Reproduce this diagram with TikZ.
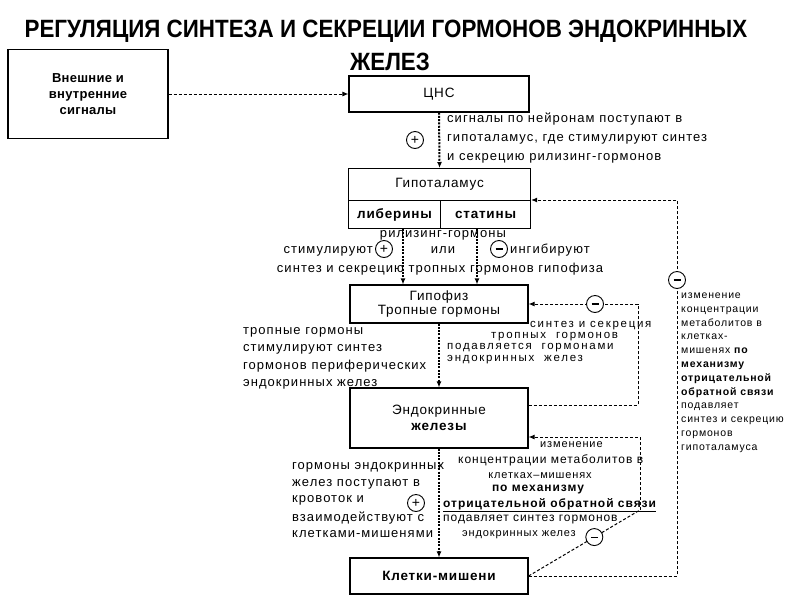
\documentclass[tikz,border=0pt]{standalone}
\usepackage{fontspec}
\usepackage{graphicx}
\setmainfont{Liberation Sans}
\newfontfamily\ann[LetterSpace=8]{Liberation Sans}
\newfontfamily\annw[LetterSpace=15]{Liberation Sans}
\newfontfamily\boxf[LetterSpace=6]{Liberation Sans}
\newfontfamily\extf[LetterSpace=2]{Liberation Sans}
\newcommand\mns{\rule{7pt}{1.1pt}}
\usetikzlibrary{arrows.meta}
\begin{document}
\begin{tikzpicture}[x=1pt,y=-1pt,
  box/.style={draw,solid,line width=1.1pt,rectangle,inner sep=0pt,align=center,font=\boxf\fontsize{13.5}{16}\selectfont},
  main/.style={line width=2pt,dash pattern=on 2pt off 1.3pt,-{Latex[length=6pt,width=5pt]}},
  fb/.style={line width=1pt,dash pattern=on 3pt off 2pt},
  fba/.style={fb,-{Latex[length=6pt,width=5pt]}},
  circ/.style={draw,solid,circle,fill=white,line width=0.9pt,minimum size=17pt,inner sep=0pt,font=\fontsize{14}{14}\selectfont},
  t13/.style={inner sep=0pt,font=\ann\fontsize{13}{13}\selectfont},
  tw/.style={inner sep=0pt,font=\annw\fontsize{11.5}{11.5}\selectfont},
  t12/.style={inner sep=0pt,font=\ann\fontsize{12}{12}\selectfont},
  t11/.style={inner sep=0pt,font=\ann\fontsize{11}{11}\selectfont},
  t10/.style={inner sep=0pt,font=\ann\fontsize{10.5}{10.5}\selectfont}]
\useasboundingbox (0,0) rectangle (800,600);
\fill[white] (0,0) rectangle (800,600);

% title
\node[inner sep=0pt] (title1) at (386,31) {\scalebox{0.895}[1]{\fontsize{25}{30}\selectfont\bfseries РЕГУЛЯЦИЯ СИНТЕЗА И СЕКРЕЦИИ ГОРМОНОВ ЭНДОКРИННЫХ}};
\node[inner sep=0pt] (title2) at (390,62) {\scalebox{0.895}[1]{\fontsize{25}{30}\selectfont\bfseries ЖЕЛЕЗ}};

% boxes
\node[box,minimum width=160pt,minimum height=89pt,font=\extf\fontsize{13}{16}\selectfont\bfseries] (ext) at (88,94) {Внешние и\\внутренние\\сигналы};
\node[box,minimum width=180pt,minimum height=36pt] (cns) at (439,94) {ЦНС};
\node[box,minimum width=182pt,minimum height=32pt,anchor=north west] (hyp) at (348,168) {Гипоталамус};
\node[box,minimum width=92pt,minimum height=28pt,anchor=north west] (lib) at (348,200) {\bfseries либерины};
\node[box,minimum width=90pt,minimum height=28pt,anchor=north west] (stat) at (440,200) {\bfseries статины};
\node[box,minimum width=178pt,minimum height=38pt] (gip) at (439,304) {Гипофиз\\[-2pt]Тропные гормоны};
\node[box,minimum width=178pt,minimum height=60pt] (endo) at (439,418) {Эндокринные\\\bfseries железы};
\node[box,minimum width=178pt,minimum height=36pt] (kl) at (439,576) {\bfseries Клетки-мишени};

% main arrows
\draw[fba] (ext.east) -- (cns.west);
\draw[main] (cns.south) -- (hyp.north);
\coordinate (ra) at (403,0);
\coordinate (rb) at (477,0);
\draw[main] (ra |- lib.south) -- (ra |- gip.north);
\draw[main] (rb |- stat.south) -- (rb |- gip.north);
\draw[main] (gip.south) -- (endo.north);
\draw[main] (endo.south) -- (kl.north);

% feedback loops
\coordinate (rc) at (677,400);
\draw[fba] (kl.east) -| (rc) |- (stat.north east);
\node[circ] (m1) at (677,280) {\mns};
\coordinate (rd) at (638,350);
\draw[fba] ([yshift=13pt]endo.east) -| (rd) |- (gip.east);
\node[circ] (m2) at (595,304) {\mns};
\coordinate (re) at (640,510);
\draw[fb] (kl.east) -- node[circ,pos=0.59] (m3) {\mns} (re);
\draw[fba] (re) |- ([yshift=-19pt]endo.east);

% plus / minus circles
\node[circ] (p1) at (415,140) {+};
\node[circ] (p2) at (384,249) {+};
\node[circ] (m4) at (499,249) {\mns};
\node[circ] (p3) at (416,503) {+};

% CNS annotation
\node[t13,anchor=base west] (a1) at (447,122) {сигналы по нейронам поступают в};
\node[t13,anchor=base west] (a2) at (447,141) {гипоталамус, где стимулируют синтез};
\node[t13,anchor=base west] (a3) at (447,160) {и секрецию рилизинг-гормонов};

% hypothalamus annotation
\node[t13,anchor=base] (b1) at (443,237) {рилизинг-гормоны};
\node[t13,anchor=base east] (b2) at (373,253) {стимулируют};
\node[t13,anchor=base] (b3) at (443,253) {или};
\node[t13,anchor=base west] (b4) at (510,253) {ингибируют};
\node[t13,anchor=base] (b5) at (440,272) {синтез и секрецию тропных гормонов гипофиза};

% hypophysis annotation
\node[tw,anchor=base west] (c1) at (530,327) {синтез и секреция};
\node[tw,anchor=base west] (c2) at (491,338) {тропных\ \ гормонов};
\node[tw,anchor=base west] (c3) at (447,349.5) {подавляется\ \ гормонами};
\node[tw,anchor=base west] (c4) at (447,361) {эндокринных\ \ желез};

\node[t13,anchor=base west] (d1) at (243,334) {тропные гормоны};
\node[t13,anchor=base west] (d2) at (243,351) {стимулируют синтез};
\node[t13,anchor=base west] (d3) at (243,369) {гормонов периферических};
\node[t13,anchor=base west] (d4) at (243,386) {эндокринных желез};

% right column
\node[t10,anchor=base west] (e1) at (681,298.5) {изменение};
\node[t10,anchor=base west] (e2) at (681,312.3) {концентрации};
\node[t10,anchor=base west] (e3) at (681,326.1) {метаболитов в};
\node[t10,anchor=base west] (e4) at (681,339.9) {клетках-};
\node[t10,anchor=base west] (e5) at (681,353.7) {мишенях \bfseries по};
\node[t10,anchor=base west] (e6) at (681,367.5) {\bfseries механизму};
\node[t10,anchor=base west] (e7) at (681,381.3) {\bfseries отрицательной};
\node[t10,anchor=base west] (e8) at (681,395.1) {\bfseries обратной связи};
\node[t10,anchor=base west] (e9) at (681,408.9) {подавляет};
\node[t10,anchor=base west] (e10) at (681,422.7) {синтез и секрецию};
\node[t10,anchor=base west] (e11) at (681,436.5) {гормонов};
\node[t10,anchor=base west] (e12) at (681,450.3) {гипоталамуса};

% bottom left
\node[t13,anchor=base west] (f1) at (292,469) {гормоны эндокринных};
\node[t13,anchor=base west] (f2) at (292,486) {желез поступают в};
\node[t13,anchor=base west] (f3) at (292,502) {кровоток и};
\node[t13,anchor=base west] (f4) at (292,521) {взаимодействуют с};
\node[t13,anchor=base west] (f5) at (292,537) {клетками-мишенями};

% bottom right
\node[t11,anchor=base west] (g1) at (540,447) {изменение};
\node[t12,anchor=base west] (g2) at (458,463) {концентрации метаболитов в};
\node[t11,anchor=base] (g3) at (540,478) {клетках–мишенях};
\node[t12,anchor=base] (g4) at (538,491) {\bfseries по механизму};
\node[t12,anchor=base west] (g5) at (443,507) {\bfseries\underline{отрицательной обратной связи}};
\node[t12,anchor=base west] (g6) at (443,521) {подавляет синтез гормонов};
\node[t11,anchor=base west] (g7) at (462,536) {эндокринных желез};
\end{tikzpicture}
\end{document}
